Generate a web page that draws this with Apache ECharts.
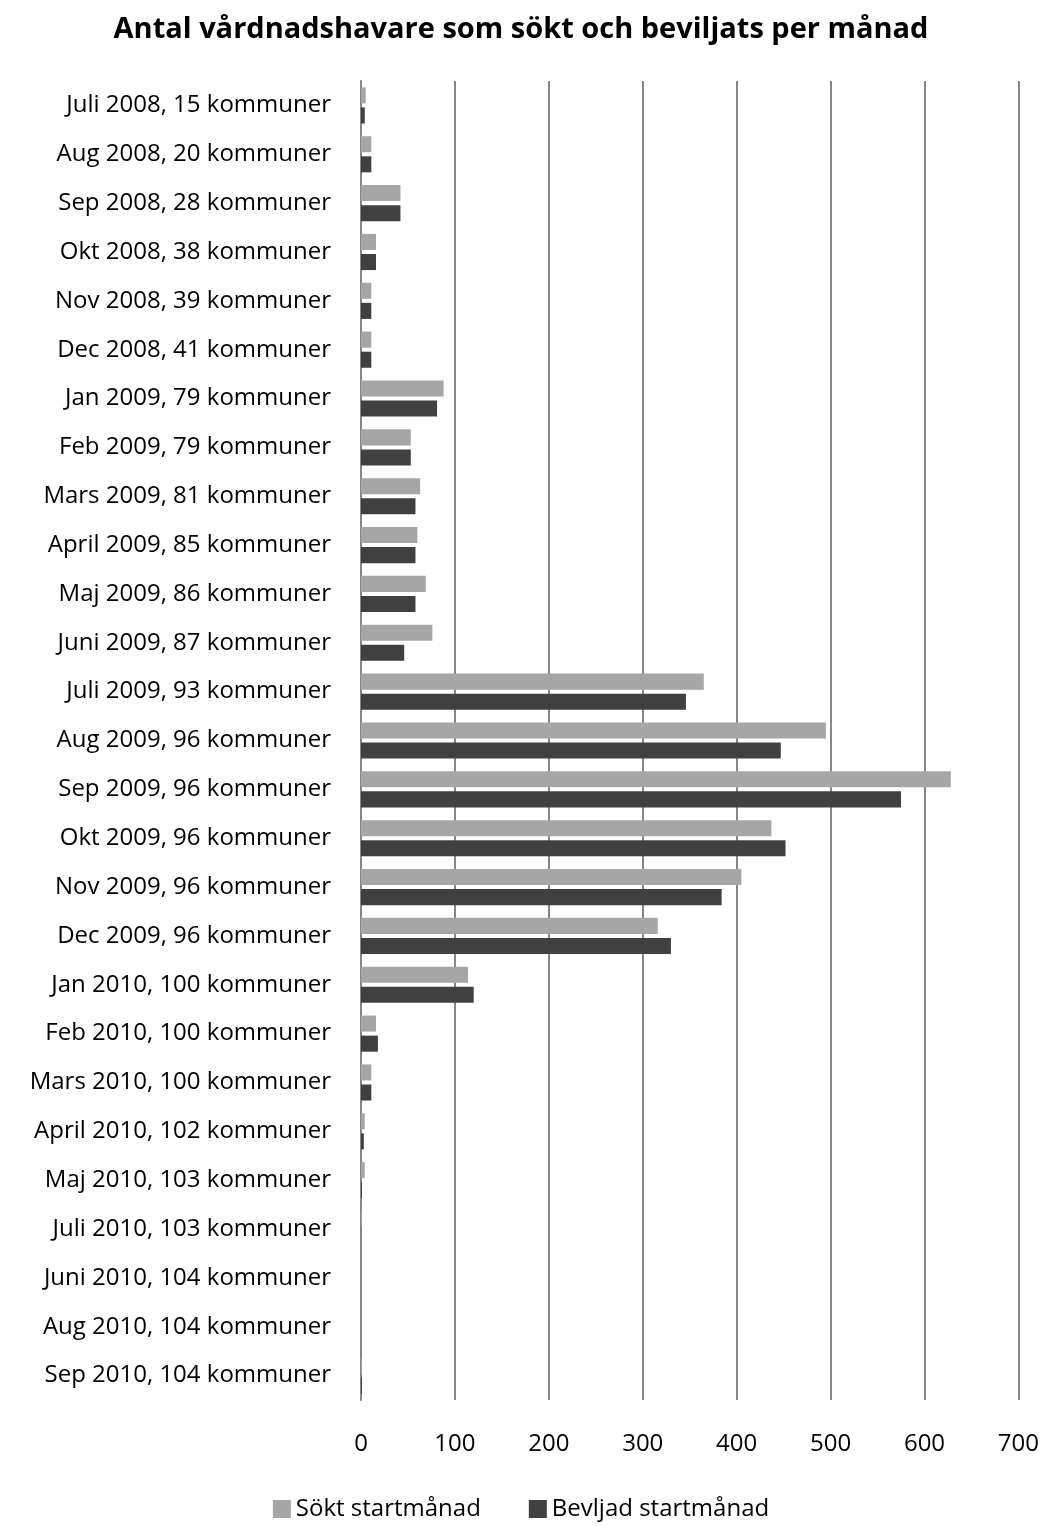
<!DOCTYPE html>
<html><head><meta charset="utf-8">
<script src="https://cdn.jsdelivr.net/npm/echarts@6/dist/echarts.min.js"></script>
<style>html,body{margin:0;padding:0;background:#fff}#c{width:1042px;height:1526px}</style>
</head><body><div id="c"></div>
<script>
const categories = ["Juli 2008, 15 kommuner","Aug 2008, 20 kommuner","Sep 2008, 28 kommuner","Okt 2008, 38 kommuner","Nov 2008, 39 kommuner","Dec 2008, 41 kommuner","Jan 2009, 79 kommuner","Feb 2009, 79 kommuner","Mars 2009, 81 kommuner","April 2009, 85 kommuner","Maj 2009, 86 kommuner","Juni 2009, 87 kommuner","Juli 2009, 93 kommuner","Aug 2009, 96 kommuner","Sep 2009, 96 kommuner","Okt 2009, 96 kommuner","Nov 2009, 96 kommuner","Dec 2009, 96 kommuner","Jan 2010, 100 kommuner","Feb 2010, 100 kommuner","Mars 2010, 100 kommuner","April 2010, 102 kommuner","Maj 2010, 103 kommuner","Juli 2010, 103 kommuner","Juni 2010, 104 kommuner","Aug 2010, 104 kommuner","Sep 2010, 104 kommuner"];
const soktStartmanad = [5,11,42,16,11,11,88,53,63,60,69,76,365,495,628,437,405,316,114,16,11,4,4,1,0,0,1];
const beviljadStartmanad = [4,11,42,16,11,11,81,53,58,58,58,46,346,447,575,452,384,330,120,18,11,3,1,0,0,0,1];
const xTicks = [0,100,200,300,400,500,600,700];
const seriesNames = ["Sökt startmånad","Bevljad startmånad"];

const font = '"Open Sans", "Noto Sans", sans-serif';
const chart = echarts.init(document.getElementById('c'));
chart.setOption({
  animation:false,
  title:{text:"Antal vårdnadshavare som sökt och beviljats per månad",left:'center',top:10,
    textStyle:{fontFamily:font,fontWeight:'bold',fontSize:29,color:'#000'}},
  legend:{bottom:0,left:'center',itemWidth:18,itemHeight:18,itemGap:48,icon:'rect',
    textStyle:{fontFamily:font,fontSize:24,color:'#000'},data:seriesNames},
  grid:{left:361,right:22,top:81,bottom:126,containLabel:false},
  xAxis:{type:'value',min:xTicks[0],max:xTicks[xTicks.length-1],interval:100,
    axisLine:{show:false},axisTick:{show:false},
    axisLabel:{fontFamily:font,fontSize:24,color:'#000',margin:32},
    splitLine:{show:true,lineStyle:{color:'#868686',width:2}}},
  yAxis:{type:'category',data:categories,inverse:true,
    axisLine:{show:true,lineStyle:{color:'#868686',width:2}},axisTick:{show:false},
    axisLabel:{fontFamily:font,fontSize:24,color:'#000',margin:30}},
  series:[
    {name:seriesNames[0],type:'bar',data:soktStartmanad,barGap:'25%',barCategoryGap:'26%',
      itemStyle:{color:'#a6a6a6'}},
    {name:seriesNames[1],type:'bar',data:beviljadStartmanad,barGap:'25%',barCategoryGap:'26%',
      itemStyle:{color:'#404040'}}
  ]
});
</script></body></html>
